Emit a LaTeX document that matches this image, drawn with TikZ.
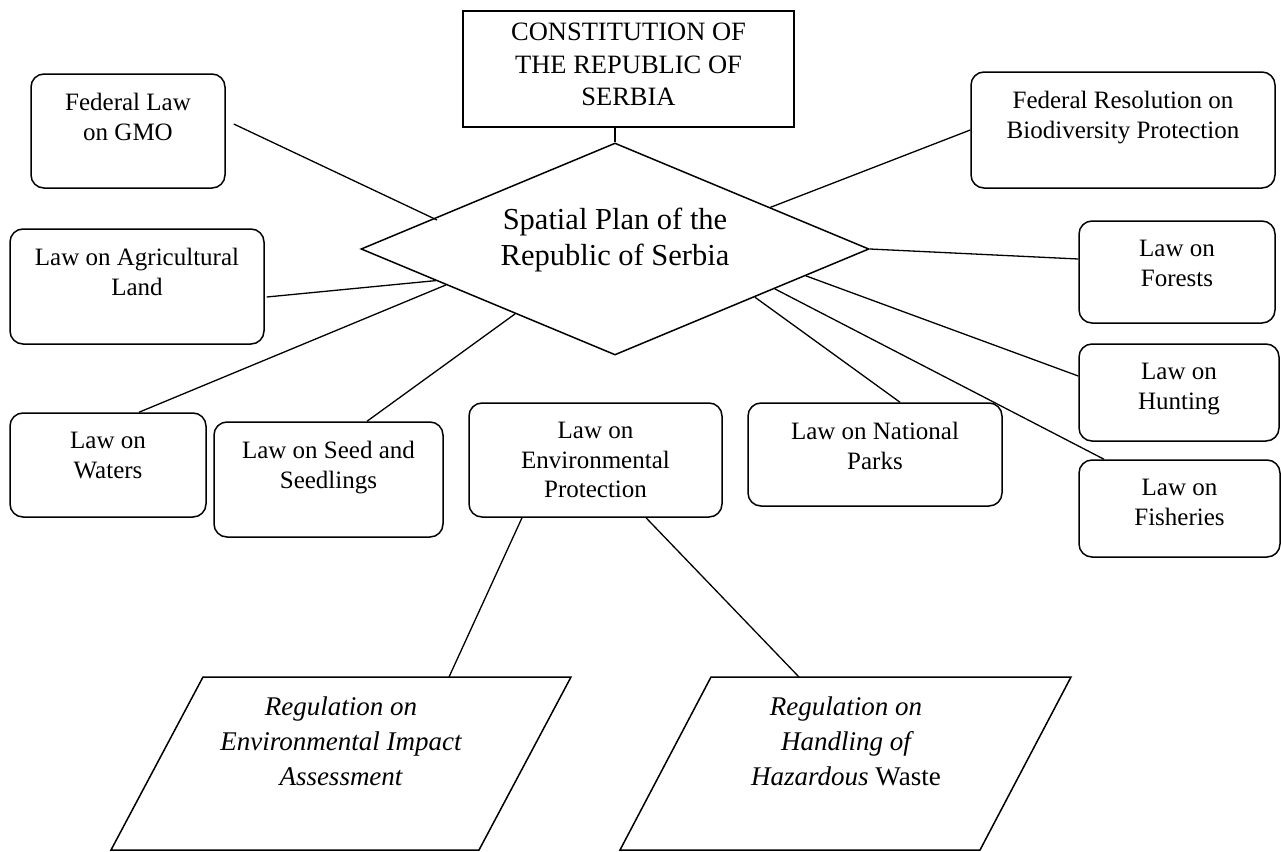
\documentclass[tikz,border=0pt]{standalone}
\usepackage{fontspec}
\setmainfont{Liberation Serif}
\usetikzlibrary{shapes.geometric,calc}
\begin{document}
\begin{tikzpicture}[x=1pt,y=-1pt,
  law/.style={draw, rounded corners=13pt, line width=1.5pt, inner sep=0pt},
  lawtxt/.style={anchor=north, align=center, inner sep=0pt,
    font=\fontsize{25pt}{29.5pt}\selectfont, yshift=-20pt},
  consttxt/.style={anchor=north, align=center, inner sep=0pt,
    font=\fontsize{26.5pt}{32.5pt}\selectfont, yshift=-13pt},
  sptxt/.style={align=center, inner sep=0pt, font=\fontsize{30.5pt}{36.5pt}\selectfont},
  regtxt/.style={align=center, inner sep=0pt, font=\fontsize{27pt}{35pt}\selectfont\itshape},
  regshape/.style={line width=1.5pt, line join=miter},
  link/.style={line width=1.3pt}]
\useasboundingbox[fill=white] (0,0) rectangle (1281,851);

% central plan and constitution
\node[draw, diamond, line width=1.5pt, minimum width=508pt, minimum height=212pt,
  inner sep=0pt] (sp) at (615,249) {};
\node[sptxt] (sp-text) at ($(sp.center)+(0,-9)$) {Spatial Plan of the\\Republic of Serbia};
\node[draw, line width=1.8pt, minimum width=331pt, minimum height=116pt, inner sep=0pt,
  label={[consttxt]north:{CONSTITUTION OF\\THE REPUBLIC OF\\SERBIA}}] (const) at (628.5,69) {};

% laws
\node[law, minimum width=194pt, minimum height=114pt,
  label={[lawtxt]north:{Federal Law\\on GMO}}] (gmo) at (128,131) {};
\node[law, minimum width=254pt, minimum height=115pt,
  label={[lawtxt]north:{Law on Agricultural\\Land}}] (agri) at (137,286.5) {};
\node[law, minimum width=196pt, minimum height=104pt,
  label={[lawtxt]north:{Law on\\Waters}}] (waters) at (108,465) {};
\node[law, minimum width=229pt, minimum height=115pt,
  label={[lawtxt]north:{Law on Seed and\\Seedlings}}] (seed) at (328.5,479.5) {};
\node[law, minimum width=253pt, minimum height=114pt,
  label={[lawtxt]north:{Law on\\Environmental\\Protection}}] (envp) at (595.5,460) {};
\node[law, minimum width=254pt, minimum height=103pt,
  label={[lawtxt]north:{Law on National\\Parks}}] (natp) at (875,454.5) {};
\node[law, minimum width=201pt, minimum height=97pt,
  label={[lawtxt]north:{Law on\\Fisheries}}] (fish) at (1179.5,508.5) {};
\node[law, minimum width=200pt, minimum height=97pt,
  label={[lawtxt]north:{Law on\\Hunting}}] (hunt) at (1179,392.5) {};
\node[law, minimum width=196pt, minimum height=102pt,
  label={[lawtxt]north:{Law on\\Forests}}] (forest) at (1177,272) {};
\node[law, minimum width=304pt, minimum height=116pt,
  label={[lawtxt]north:{Federal Resolution on\\Biodiversity Protection}}] (fedres) at (1123,130) {};

% regulations
\coordinate (eia-a) at (203,677);
\coordinate (eia-b) at (571,677);
\coordinate (eia-c) at (479,850);
\coordinate (eia-d) at (111,850);
\draw[regshape] (eia-a) -- (eia-b) -- (eia-c) -- (eia-d) -- cycle;
\node[regtxt] (eia) at (341,741) {Regulation on\\Environmental Impact\\Assessment};
\coordinate (eia-in) at (449,677);

\coordinate (haz-a) at (711,677);
\coordinate (haz-b) at (1071,677);
\coordinate (haz-c) at (980,850);
\coordinate (haz-d) at (620,850);
\draw[regshape] (haz-a) -- (haz-b) -- (haz-c) -- (haz-d) -- cycle;
\node[regtxt] (haz) at (846,741) {Regulation on\\Handling of\\Hazardous \textup{Waste}};
\coordinate (haz-in) at (799,677);

% connectors
\draw[link] (sp.north |- const.south) -- (sp.north);
\draw[link] ($(gmo.east)+(8,-7)$) -- ($(sp.center)+(-178,-29)$);
\draw[link] ($(agri.east)+(2,10.5)$) -- (sp.190);
\draw[link] ($(waters.north)+(31,0)$) -- (sp.192.6);
\draw[link] ($(seed.north)+(38.5,0)$) -- (sp.213.4);
\draw[link] (sp.15.2) -- (fedres.west);
\draw[link] (sp.east) -- ($(forest.west)+(0,-13)$);
\draw[link] (sp.352.3) -- ($(hunt.west)+(0,-16.5)$);
\draw[link] (sp.341.6) -- ($(natp.north)+(25,0)$);
\draw[link] (sp.346.7) -- ($(fish.north)+(-75.5,0)$);
\draw[link] ($(envp.south)+(-73.5,0)$) -- (eia-in);
\draw[link] ($(envp.south)+(50.5,0)$) -- (haz-in);
\end{tikzpicture}
\end{document}
